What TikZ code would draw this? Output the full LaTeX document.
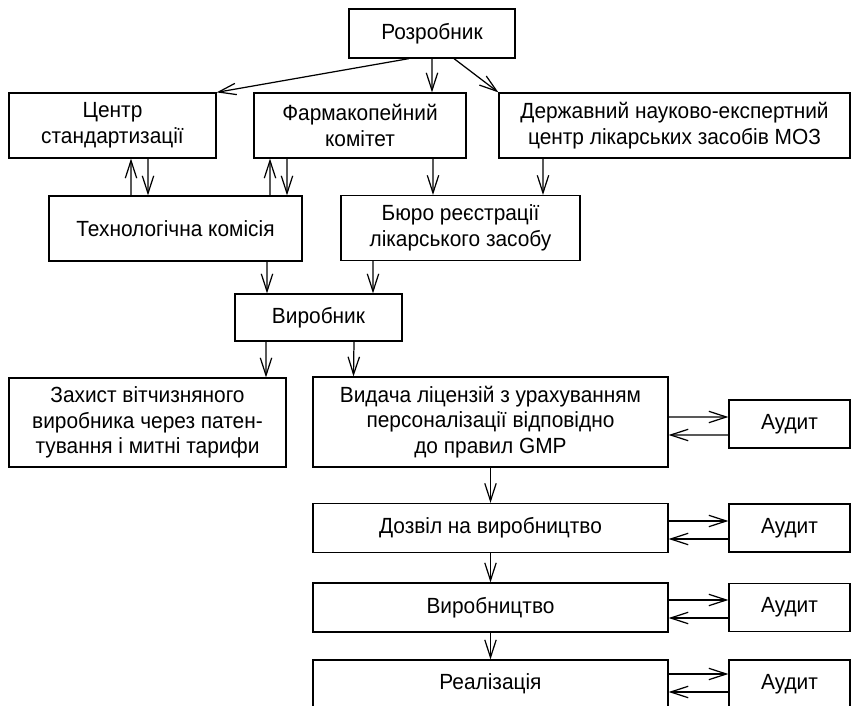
\documentclass[tikz,border=0pt]{standalone}
\usepackage{fontspec}
\setmainfont{Liberation Sans}[FakeStretch=0.95]
\usetikzlibrary{arrows.meta,positioning}

\begin{document}
\begin{tikzpicture}[
  ->,>={Straight Barb[length=10pt,width=6.5pt]},
  line width=0.7pt,
  box/.style={rectangle, draw, align=center, inner sep=2pt,
    font=\fontsize{12.5}{14.6}\selectfont},
  audit/.style={box, minimum width=2.42cm, minimum height=0.96cm}
]
  \useasboundingbox (0,0) rectangle (17.02,-14.12);

  \node[box, minimum width=3.32cm, minimum height=0.98cm] (R) at (8.64,-0.67) {Розробник};
  \node[box, minimum width=4.14cm, minimum height=1.30cm] (C) at (2.25,-2.51) {Центр\\стандартизації};
  \node[box, minimum width=4.24cm, minimum height=1.30cm] (F) at (7.20,-2.51) {Фармакопейний\\комітет};
  \node[box, minimum width=7.02cm, minimum height=1.30cm] (D) at (13.49,-2.51) {Державний науково-експертний\\центр лікарських засобів МОЗ};
  \node[box, minimum width=5.06cm, minimum height=1.30cm] (T) at (3.51,-4.57) {Технологічна комісія};
  \node[box, minimum width=4.78cm, minimum height=1.30cm] (B) at (9.21,-4.56) {Бюро реєстрації\\лікарського засобу};
  \node[box, minimum width=3.34cm, minimum height=0.94cm] (V) at (6.37,-6.35) {Виробник};
  \node[box, minimum width=5.54cm, minimum height=1.78cm] (Z) at (2.95,-8.45) {Захист вітчизняного\\виробника через патен-\\тування і митні тарифи};
  \node[box, minimum width=7.10cm, minimum height=1.80cm] (L) at (9.81,-8.44) {Видача ліцензій з урахуванням\\персоналізації відповідно\\до правил GMP};
  \node[box, minimum width=7.10cm, minimum height=0.98cm] (P) at (9.81,-10.56) {Дозвіл на виробництво};
  \node[box, minimum width=7.10cm, minimum height=0.98cm] (M) at (9.81,-12.15) {Виробництво};
  \node[box, minimum width=7.10cm, minimum height=0.96cm] (S) at (9.81,-13.68) {Реалізація};

  \node[audit] (A1) at (15.79,-8.48) {Аудит};
  \node[audit] (A2) at (15.79,-10.56) {Аудит};
  \node[audit] (A3) at (15.79,-12.15) {Аудит};
  \node[audit] (A4) at (15.79,-13.68) {Аудит};

  % from the developer
  \draw ([xshift=-0.46cm]R.south) -- (C.north east);
  \draw (R.south) -- ([xshift=1.44cm]F.north);
  \draw ([xshift=0.44cm]R.south) -- (D.north west);

  % committees
  \draw ([xshift=-0.89cm]T.north) -- ([xshift=0.37cm]C.south);
  \draw ([xshift=0.71cm]C.south) -- ([xshift=-0.55cm]T.north);
  \draw ([xshift=1.89cm]T.north) -- ([xshift=-1.80cm]F.south);
  \draw ([xshift=-1.46cm]F.south) -- ([xshift=2.23cm]T.north);
  \draw ([xshift=1.46cm]F.south) -- ([xshift=-0.55cm]B.north);
  \draw ([xshift=-2.63cm]D.south) -- ([xshift=1.65cm]B.north);

  % to the manufacturer and on
  \draw ([xshift=1.83cm]T.south) -- ([xshift=-1.03cm]V.north);
  \draw ([xshift=-1.75cm]B.south) -- ([xshift=1.09cm]V.north);
  \draw ([xshift=-1.05cm]V.south) -- ([xshift=2.37cm]Z.north);
  \draw ([xshift=0.71cm]V.south) -- ([xshift=-2.74cm]L.north);
  \draw (L.south) -- (P.north);
  \draw (P.south) -- (M.north);
  \draw (M.south) -- (S.north);

  % audits
  \draw ([yshift=0.10cm]L.east) -- ([yshift=0.14cm]A1.west);
  \draw ([yshift=-0.22cm]A1.west) -- ([yshift=-0.26cm]L.east);
  \draw ([yshift=0.14cm]P.east) -- ([yshift=0.14cm]A2.west);
  \draw ([yshift=-0.22cm]A2.west) -- ([yshift=-0.22cm]P.east);
  \draw ([yshift=0.15cm]M.east) -- ([yshift=0.15cm]A3.west);
  \draw ([yshift=-0.21cm]A3.west) -- ([yshift=-0.21cm]M.east);
  \draw ([yshift=0.20cm]S.east) -- ([yshift=0.20cm]A4.west);
  \draw ([yshift=-0.16cm]A4.west) -- ([yshift=-0.16cm]S.east);
\end{tikzpicture}
\end{document}
